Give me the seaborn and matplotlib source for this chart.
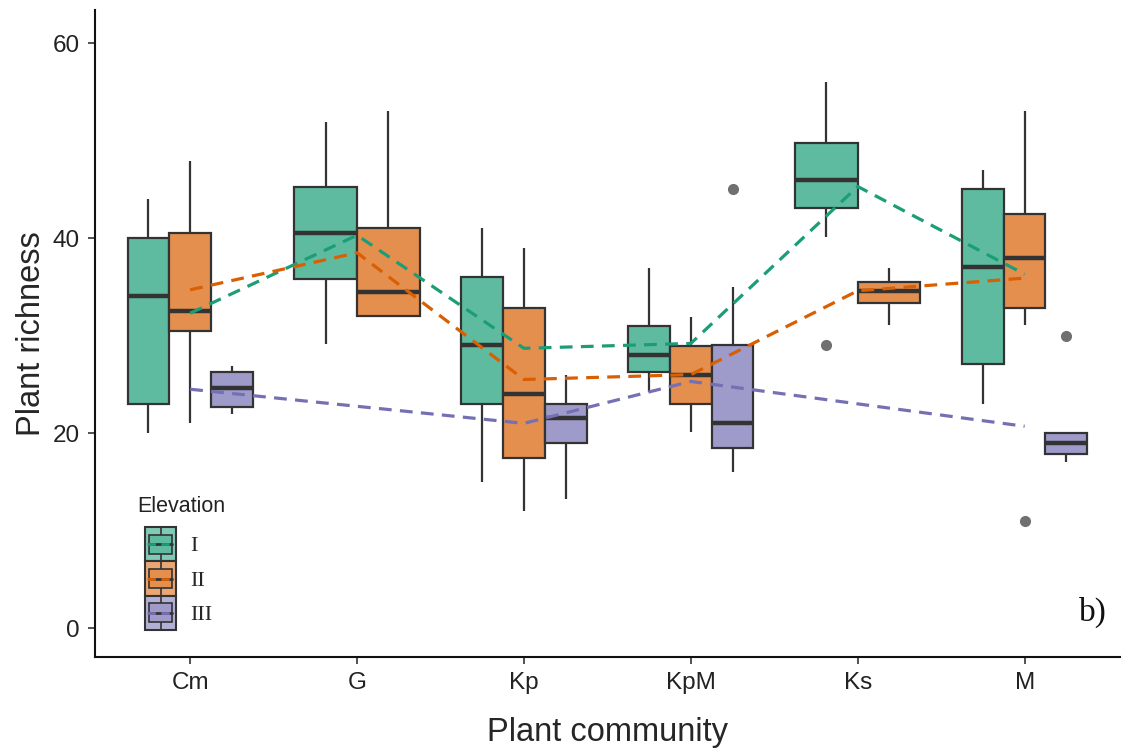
import matplotlib
matplotlib.use("Agg")
import numpy as np
import pandas as pd
import seaborn as sns
import matplotlib.pyplot as plt
from matplotlib.legend_handler import HandlerBase
from matplotlib.patches import Rectangle
from matplotlib.lines import Line2D

# ---- data -------------------------------------------------------------
communities = ["Cm", "G", "Kp", "KpM", "Ks", "M"]
elevations = ["I", "II", "III"]

# one entry per box: (community, elevation) with its five-number summary
box_community = ["Cm", "Cm", "Cm", "G", "G", "Kp", "Kp", "Kp",
                 "KpM", "KpM", "KpM", "Ks", "Ks", "M", "M", "M"]
box_elevation = ["I", "II", "III", "I", "II", "I", "II", "III",
                 "I", "II", "III", "I", "II", "I", "II", "III"]
whisker_low = [20.0, 21.0, 22.0, 29.1, 32.0, 15.0, 12.0, 13.2,
               24.2, 20.1, 16.0, 40.1, 31.1, 23.0, 31.1, 17.0]
quart_1 = [23.0, 30.5, 22.7, 35.8, 32.0, 23.0, 17.4, 19.0,
           26.3, 23.0, 18.5, 43.1, 33.3, 27.1, 32.8, 17.9]
medians = [34.1, 32.5, 24.6, 40.5, 34.5, 29.0, 24.0, 21.5,
           28.0, 26.0, 21.0, 46.0, 34.6, 37.0, 38.0, 19.0]
quart_3 = [40.0, 40.5, 26.3, 45.2, 41.0, 36.0, 32.8, 23.0,
           31.0, 28.9, 29.0, 49.8, 35.5, 45.0, 42.5, 20.0]
whisker_high = [44.0, 47.9, 26.9, 51.9, 53.0, 41.0, 39.0, 26.0,
                36.9, 31.9, 35.0, 56.0, 36.9, 47.0, 53.0, 20.0]
outliers = [[], [], [], [], [], [], [], [],
            [], [], [45.0], [29.0], [], [], [11.0], [30.0]]

# mean richness per community, one list per elevation (None = not sampled)
mean_I = [32.3, 40.3, 28.7, 29.2, 45.3, 36.3]
mean_II = [34.7, 38.5, 25.5, 26.0, 34.6, 35.9]
mean_III = [24.5, None, 21.0, 25.3, None, 20.7]

# ---- build long tables ------------------------------------------------
def summary_sample(lo, a, med, b, hi, extra):
    """Observations whose quartiles/whiskers reproduce the summary."""
    if not extra:
        return [lo, a, med, b, hi]
    # nine points: quartiles fall exactly on sorted indices 2, 4, 6
    return sorted([lo, a, a, med, med, b, b, hi] + list(extra))

rows = []
for i in range(len(box_community)):
    for v in summary_sample(whisker_low[i], quart_1[i], medians[i],
                            quart_3[i], whisker_high[i], outliers[i]):
        rows.append({"community": box_community[i],
                     "elevation": box_elevation[i], "richness": v})
df = pd.DataFrame(rows)

mean_rows = []
for elev, vals in zip(elevations, [mean_I, mean_II, mean_III]):
    for pos, (c, v) in enumerate(zip(communities, vals)):
        if v is not None:
            # categorical axes place the k-th category at position k
            mean_rows.append({"community": c, "pos": pos,
                              "elevation": elev, "mean": v})
means = pd.DataFrame(mean_rows)

# ---- style ------------------------------------------------------------
base = {"I": "#1B9E77", "II": "#D95F02", "III": "#7570B3"}

def tint(hex_color, alpha=0.7):
    rgb = np.array(matplotlib.colors.to_rgb(hex_color))
    return tuple(alpha * rgb + (1 - alpha))

fills = {k: tint(v) for k, v in base.items()}
EDGE = "#333333"

sns.set_theme(style="ticks")
plt.rcParams["font.family"] = ["Liberation Sans", "DejaVu Sans"]

fig = plt.figure(figsize=(11.22, 7.49), dpi=100)
ax = fig.add_axes([0.0847, 0.1228, 0.9133, 0.8638])

# ---- boxes (dodged only among elevations present in each community) ---
for c in communities:
    sub = df[df["community"] == c]
    present = [e for e in elevations if e in set(sub["elevation"])]
    sns.boxplot(data=sub, x="community", y="richness", hue="elevation",
                order=communities, hue_order=present, palette=fills,
                saturation=1, width=0.75, dodge=True, linecolor=EDGE,
                linewidth=1.6, fliersize=7, showcaps=False, legend=False,
                ax=ax,
                medianprops=dict(color=EDGE, linewidth=3.2),
                whiskerprops=dict(color=EDGE, linewidth=1.6),
                flierprops=dict(marker="o", markerfacecolor="#707070",
                                markeredgecolor="#707070"))

# ---- dashed mean lines ------------------------------------------------
n_before = len(ax.lines)
sns.lineplot(data=means, x="pos", y="mean", hue="elevation",
             hue_order=elevations, palette=base, estimator=None,
             sort=True, legend=False, ax=ax)
for ln in ax.lines[n_before:]:
    ln.set_linewidth(2.3)
    ln.set_dashes((4.0, 2.6))
    ln.set_zorder(5)

# ---- axes -------------------------------------------------------------
ax.set_xlim(-0.57, 5.57)
ax.set_ylim(-2.97, 63.4)
ax.set_xticks(range(len(communities)))
ax.set_xticklabels(communities)
ax.set_yticks([0, 20, 40, 60])
ax.set_xlabel("Plant community", fontsize=23.5, labelpad=16)
ax.set_ylabel("Plant richness", fontsize=23.5, labelpad=4)
ax.tick_params(axis="both", labelsize=17.5, length=5, width=1.2,
               color=EDGE, labelcolor="#222222", pad=6)
for side in ["left", "bottom"]:
    ax.spines[side].set_linewidth(1.5)
    ax.spines[side].set_color("#111111")
sns.despine(ax=ax)

ax.text(0.987, 0.045, "b)", transform=ax.transAxes, ha="right", va="bottom",
        fontsize=24, family="Liberation Serif", color="#111111")

# ---- legend with boxplot-style keys -----------------------------------
class ElevKey:
    def __init__(self, elev):
        self.elev = elev


class ElevKeyHandler(HandlerBase):
    def create_artists(self, legend, orig_handle, xdescent, ydescent,
                       width, height, fontsize, trans):
        e = orig_handle.elev
        x0, y0, w, h = -xdescent, -ydescent, width, height
        arts = [
            Rectangle((x0, y0), w, h, facecolor=tint(base[e], 0.55),
                      edgecolor=EDGE, linewidth=1.5),
            Line2D([x0 + w / 2] * 2, [y0, y0 + h], color=EDGE, lw=1.2),
            Rectangle((x0 + 0.12 * w, y0 + 0.22 * h), 0.76 * w, 0.56 * h,
                      facecolor=fills[e], edgecolor=EDGE, linewidth=1.2),
            Line2D([x0 + 0.12 * w, x0 + 0.88 * w], [y0 + h / 2] * 2,
                   color=EDGE, lw=2.0),
            Line2D([x0 + 0.08 * w, x0 + 0.92 * w], [y0 + h / 2] * 2,
                   color=base[e], lw=2.0, dashes=(3, 2)),
        ]
        for a in arts:
            a.set_transform(trans)
        return arts


fig.text(137 / 1122, 1 - 507 / 749, "Elevation", ha="left", va="center",
         fontsize=15.5, family="Liberation Sans", color="#222222")
handles = [ElevKey(e) for e in elevations]
leg = ax.legend(handles, elevations,
                handler_map={ElevKey: ElevKeyHandler()},
                loc="upper left", bbox_to_anchor=(145 / 1122, 1 - 527 / 749),
                bbox_transform=fig.transFigure, frameon=False,
                borderpad=0, borderaxespad=0, labelspacing=0.0,
                handlelength=1.4, handleheight=2.0, handletextpad=0.65,
                prop={"family": "Liberation Serif", "size": 16})

fig.savefig("out.png", dpi=100)
